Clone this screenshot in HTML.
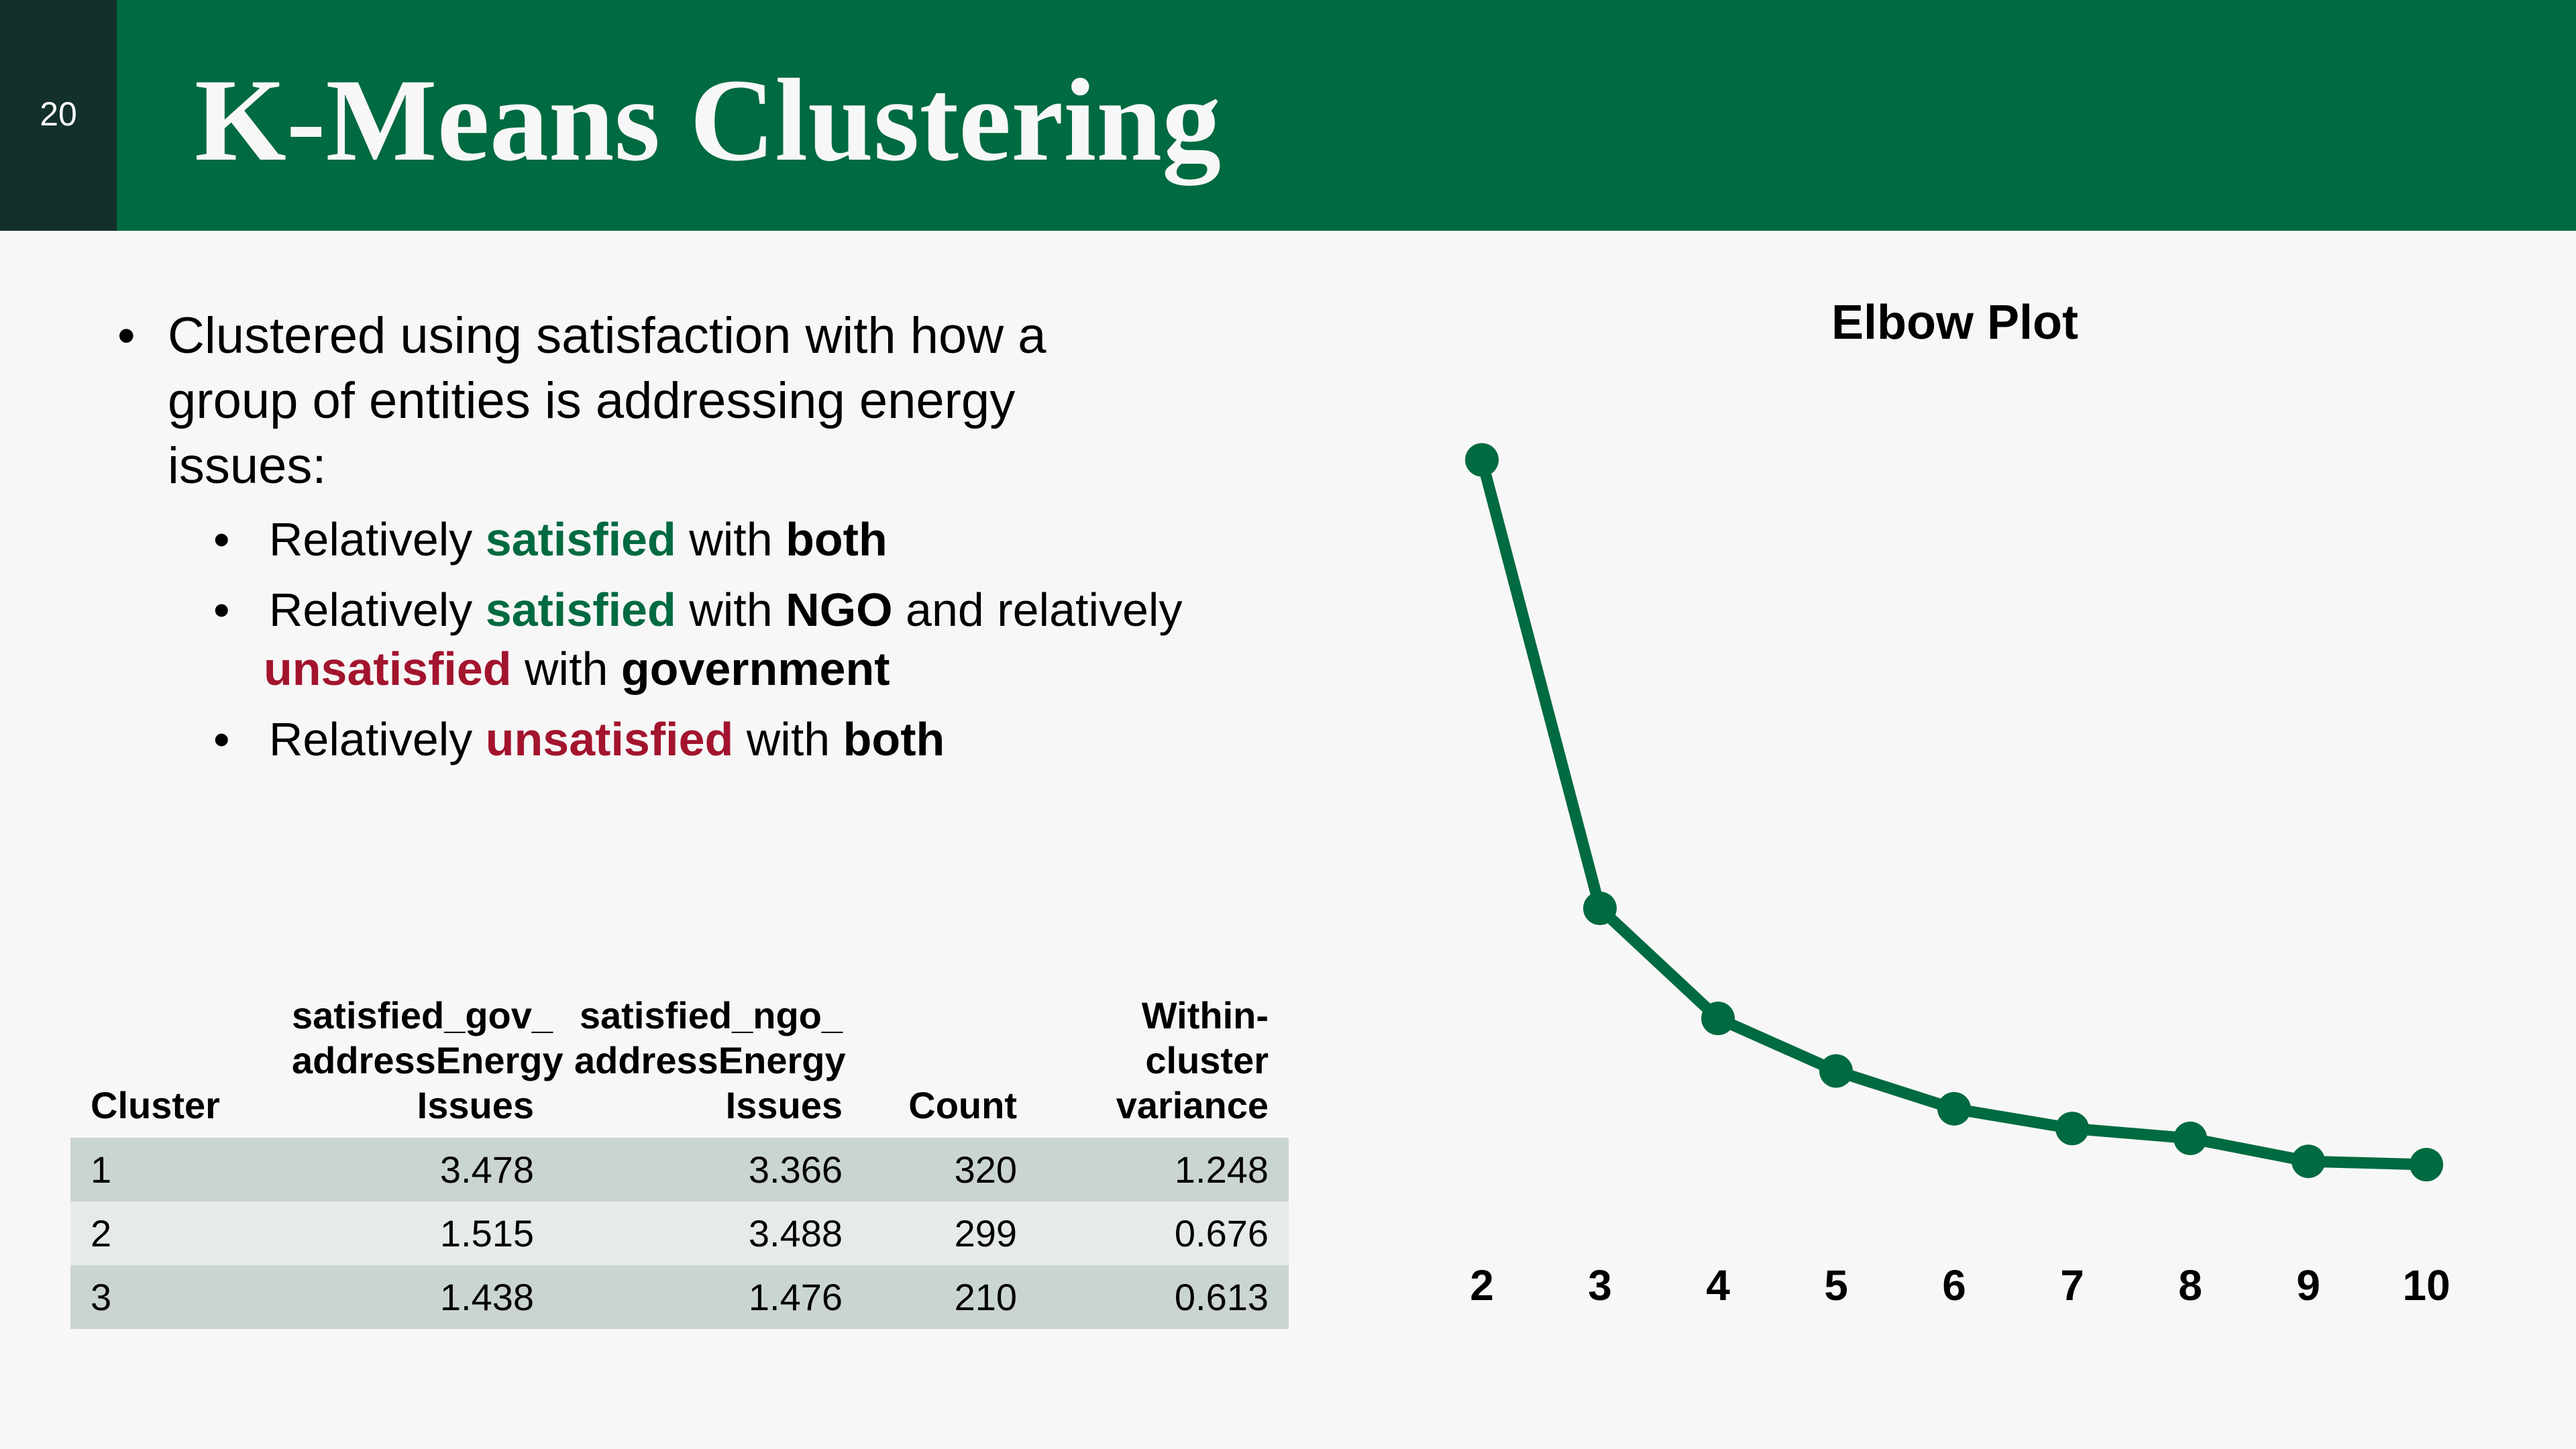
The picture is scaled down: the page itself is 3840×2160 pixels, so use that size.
<!DOCTYPE html>
<html><head><meta charset="utf-8"><style>
*{margin:0;padding:0;box-sizing:border-box}
body{width:3840px;height:2160px;background:#f7f7f7;position:relative;overflow:hidden;font-family:"Liberation Sans",sans-serif;color:#000}
.abs{position:absolute}
.g{color:#006a40;font-weight:bold}
.r{color:#a3142e;font-weight:bold}
b{font-weight:bold}
.bl{position:absolute;font-size:76px;line-height:97px;white-space:nowrap}
.sb{position:absolute;font-size:70px;line-height:88px;white-space:nowrap}
table{border-collapse:collapse;font-size:56px;table-layout:fixed}
th{font-weight:bold;vertical-align:bottom;line-height:67px;padding:0 30px 15px 30px;text-align:right}
td{height:95px;padding:0 30px;text-align:right}
tr.o td{background:#cbd5cf}
tr.e td{background:#e6ebe7}
</style></head><body>
<div class="abs" style="left:0;top:0;width:3840px;height:344px;background:#006a40"></div>
<div class="abs" style="left:0;top:0;width:174px;height:344px;background:#13302a"></div>
<div class="abs" style="left:0;top:140px;width:174px;text-align:center;color:#fff;font-size:50px;line-height:60px">20</div>
<div class="abs" style="left:290px;top:80px;color:#f7f7f7;font-family:'Liberation Serif',serif;font-weight:bold;font-size:176px;line-height:200px;white-space:nowrap">K-Means Clustering</div>

<div class="bl" style="left:175px;top:452px">•</div>
<div class="bl" style="left:250px;top:452px">Clustered using satisfaction with how a<br>group of entities is addressing energy<br>issues:</div>
<div class="sb" style="left:318px;top:760px">•&nbsp;&nbsp;&nbsp;Relatively <span class="g">satisfied</span> with <b>both</b></div>
<div class="sb" style="left:318px;top:865px">•&nbsp;&nbsp;&nbsp;Relatively <span class="g">satisfied</span> with <b>NGO</b> and relatively</div>
<div class="sb" style="left:393px;top:953px"><span class="r">unsatisfied</span> with <b>government</b></div>
<div class="sb" style="left:318px;top:1058px">•&nbsp;&nbsp;&nbsp;Relatively <span class="r">unsatisfied</span> with <b>both</b></div>

<table class="abs" style="left:105px;top:1480px;width:1816px">
<colgroup><col style="width:300px"><col style="width:421px"><col style="width:460px"><col style="width:260px"><col style="width:375px"></colgroup>
<tr><th style="text-align:left">Cluster</th><th>satisfied_gov_<br>addressEnergy<br>Issues</th><th>satisfied_ngo_<br>addressEnergy<br>Issues</th><th>Count</th><th>Within-<br>cluster<br>variance</th></tr>
<tr class="o"><td style="text-align:left">1</td><td>3.478</td><td>3.366</td><td>320</td><td>1.248</td></tr>
<tr class="e"><td style="text-align:left">2</td><td>1.515</td><td>3.488</td><td>299</td><td>0.676</td></tr>
<tr class="o"><td style="text-align:left">3</td><td>1.438</td><td>1.476</td><td>210</td><td>0.613</td></tr>
</table>

<svg class="abs" style="left:0;top:0" width="3840" height="2160">
<text x="2914" y="505" text-anchor="middle" font-family="Liberation Sans" font-weight="bold" font-size="72">Elbow Plot</text>
<g id="plot"></g>
</svg>
<script>
const categories=[2,3,4,5,6,7,8,9,10];
const values=[480,207,140,108,85,73,67,53,51];
const tickLabels=["2","3","4","5","6","7","8","9","10"];
const NS="http://www.w3.org/2000/svg";
const xS=i=>2209+i*176;
const yS=v=>1861-v*2.449;
const g=document.getElementById('plot');
const line=document.createElementNS(NS,'polyline');


line.setAttribute('points',values.map((v,i)=>xS(i)+','+yS(v)).join(' '));
line.setAttribute('fill','none');line.setAttribute('stroke','#006a40');line.setAttribute('stroke-width','17');line.setAttribute('stroke-linejoin','round');
g.appendChild(line);
values.forEach((v,i)=>{
 const c=document.createElementNS(NS,'circle');
 
 
 c.setAttribute('cx',xS(i));c.setAttribute('cy',yS(v));c.setAttribute('r','25');c.setAttribute('fill','#006a40');
 g.appendChild(c);
 const t=document.createElementNS(NS,'text');
 
 
 t.setAttribute('x',xS(i));t.setAttribute('y','1938');t.setAttribute('text-anchor','middle');
 t.setAttribute('font-family','Liberation Sans');t.setAttribute('font-weight','bold');t.setAttribute('font-size','64');
 t.textContent=tickLabels[i];
 g.appendChild(t);
});
</script>
</body></html>
